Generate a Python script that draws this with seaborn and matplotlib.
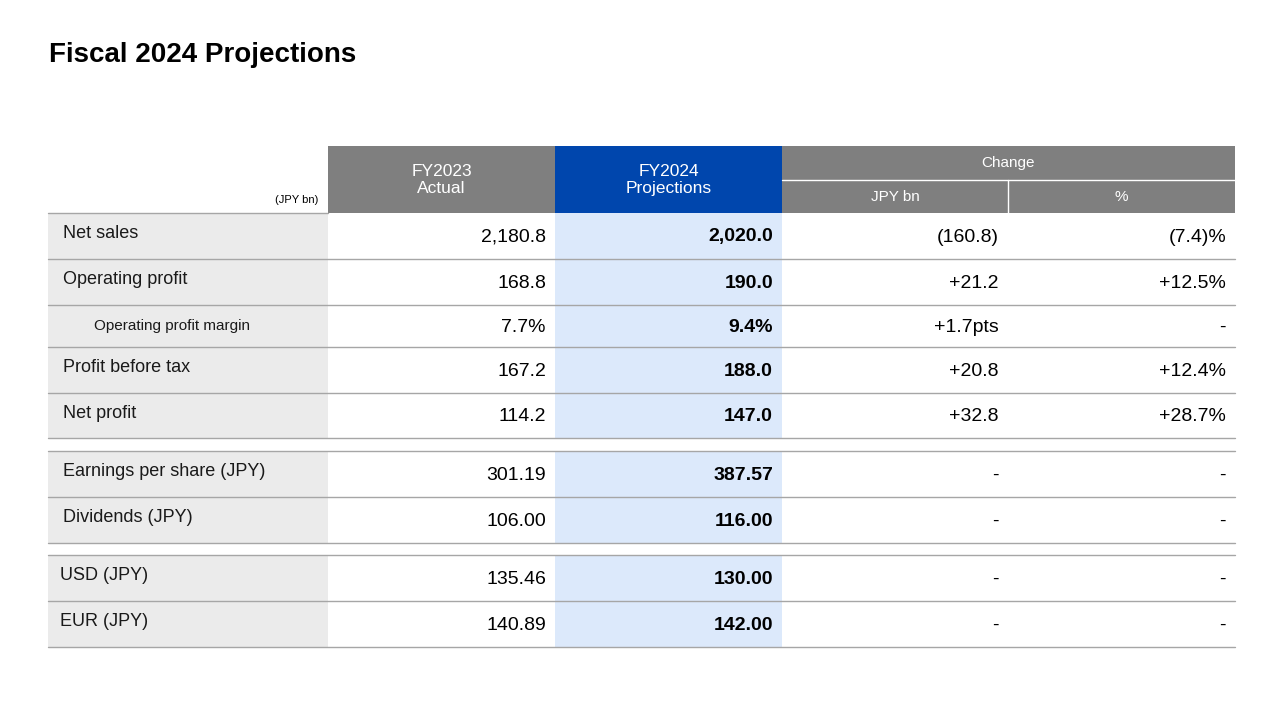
import matplotlib.pyplot as plt
import seaborn as sns
from matplotlib.patches import Rectangle

sns.set_theme(style="white", font="Liberation Sans")

# table data
row_labels = ["Net sales", "Operating profit", "Operating profit margin", "Profit before tax",
              "Net profit", "Earnings per share (JPY)", "Dividends (JPY)", "USD (JPY)", "EUR (JPY)"]
fy2023 = ["2,180.8", "168.8", "7.7%", "167.2", "114.2", "301.19", "106.00", "135.46", "140.89"]
fy2024 = ["2,020.0", "190.0", "9.4%", "188.0", "147.0", "387.57", "116.00", "130.00", "142.00"]
chg_jpy = ["(160.8)", "+21.2", "+1.7pts", "+20.8", "+32.8", "-", "-", "-", "-"]
chg_pct = ["(7.4)%", "+12.5%", "-", "+12.4%", "+28.7%", "-", "-", "-", "-"]

# layout (pixels)
row_top = [213, 259, 305, 347, 393, 451, 497, 555, 601]
row_bot = [259, 305, 347, 393, 438, 497, 543, 601, 647]
col_x = [48, 328, 555, 782, 1008, 1235]

GRAY_HDR = "#7f7f7f"
BLUE = "#0046ad"
LIGHT_BLUE = "#dce9fb"
LABEL_BG = "#ebebeb"
LINE = "#a6a6a6"

fig = plt.figure(figsize=(12.81, 7.2), dpi=100)
ax = fig.add_axes([0, 0, 1, 1])
ax.set_xlim(0, 1281)
ax.set_ylim(720, 0)
ax.axis("off")

def rect(x0, y0, x1, y1, color):
    ax.add_patch(Rectangle((x0, y0), x1 - x0, y1 - y0, facecolor=color, edgecolor="none"))

ax.text(49, 55, "Fiscal 2024 Projections", fontsize=20, fontweight="bold", va="center", color="black")

# header
rect(col_x[1], 146, col_x[2], 213, GRAY_HDR)
rect(col_x[2], 146, col_x[3], 213, BLUE)
rect(col_x[3], 146, col_x[5], 213, GRAY_HDR)
ax.plot([col_x[3], col_x[5]], [180, 180], color="white", lw=1)
ax.plot([col_x[4], col_x[4]], [180, 213], color="white", lw=1)
ax.text((col_x[1] + col_x[2]) / 2, 180, "FY2023\nActual", color="white", fontsize=12.5,
        ha="center", va="center", linespacing=1.1)
ax.text((col_x[2] + col_x[3]) / 2, 180, "FY2024\nProjections", color="white", fontsize=12.5,
        ha="center", va="center", linespacing=1.1)
ax.text((col_x[3] + col_x[5]) / 2, 163, "Change", color="white", fontsize=11, ha="center", va="center")
ax.text((col_x[3] + col_x[4]) / 2, 197, "JPY bn", color="white", fontsize=11, ha="center", va="center")
ax.text((col_x[4] + col_x[5]) / 2, 197, "%", color="white", fontsize=11, ha="center", va="center")
ax.text(318, 200, "(JPY bn)", fontsize=8, ha="right", va="center", color="black")
ax.plot([col_x[0], col_x[1]], [213, 213], color=LINE, lw=1)

for i, lab in enumerate(row_labels):
    t, b = row_top[i], row_bot[i]
    yc = (t + b) / 2
    rect(col_x[0], t, col_x[1], b, LABEL_BG)
    rect(col_x[2], t, col_x[3], b, LIGHT_BLUE)
    if i == 2:
        ax.text(94, yc, lab, fontsize=11, va="center", color="#1a1a1a")
    else:
        ax.text(63 if i < 7 else 60, yc - 2, lab, fontsize=13, va="center", color="#1a1a1a")
    ax.text(col_x[2] - 9, yc + 1, fy2023[i], fontsize=14, ha="right", va="center", color="black")
    ax.text(col_x[3] - 9, yc + 1, fy2024[i], fontsize=14, ha="right", va="center",
            fontweight="bold", color="black")
    ax.text(col_x[4] - 9, yc + 1, chg_jpy[i], fontsize=14, ha="right", va="center", color="black")
    ax.text(col_x[5] - 9, yc + 1, chg_pct[i], fontsize=14, ha="right", va="center", color="black")
    ax.plot([col_x[0], col_x[5]], [b, b], color=LINE, lw=1)
    if i in (5, 7):
        ax.plot([col_x[0], col_x[5]], [t, t], color=LINE, lw=1)

fig.savefig("out.png", dpi=100)
